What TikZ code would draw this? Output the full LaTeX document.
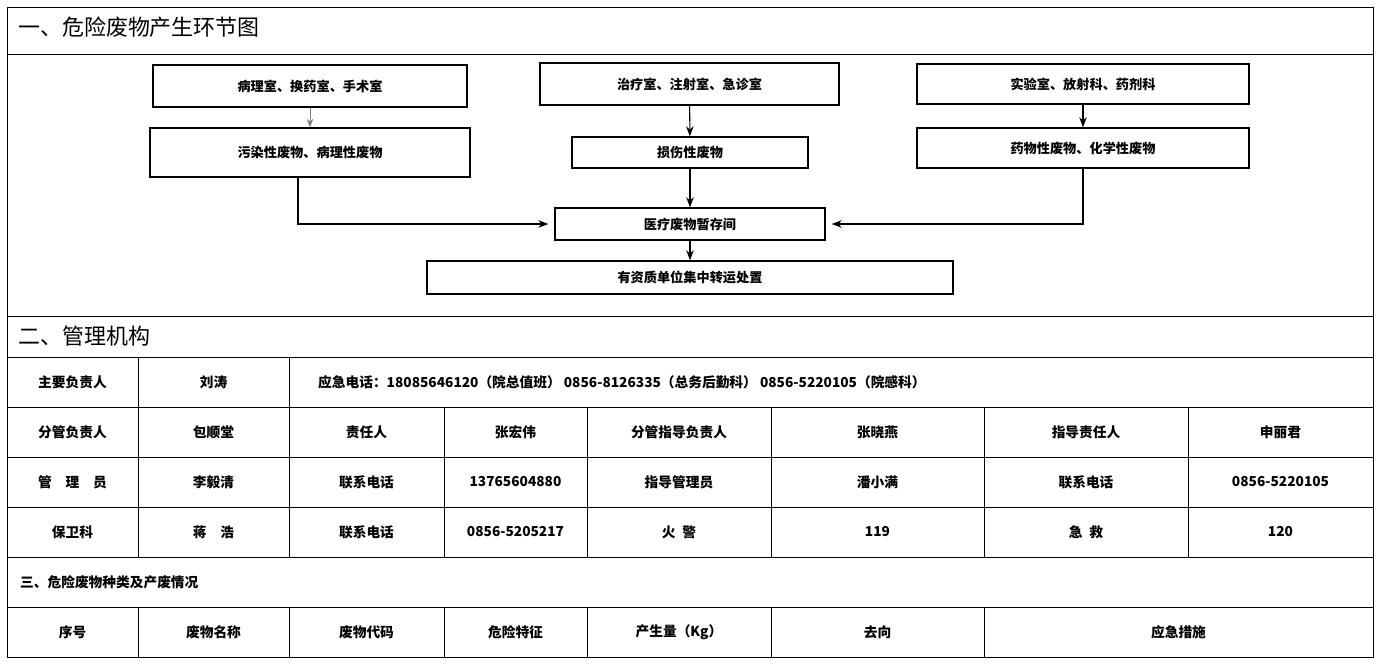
\documentclass[tikz,border=0pt]{standalone}
\usepackage{fontspec}
\setmainfont{Noto Sans CJK SC}
\usetikzlibrary{arrows.meta}
\tikzset{
  flowbox/.style={draw, thick, minimum height=0.8cm, font=\fontsize{7.5}{9}\selectfont\bfseries},
  cell/.style={font=\fontsize{7.8}{9}\selectfont\bfseries},
  flow/.style={->, >=Stealth, semithick},
}
\begin{document}
\begin{tikzpicture}[x=0.02cm, y=-0.02cm]
                \useasboundingbox (0,0) rectangle (1379,664);
                % frame and rules
                \draw (7,7) rectangle (1373,657);
                \foreach \y in {54,316,357,407,457,507,557,607}
                    \draw (7,\y) -- (1373,\y);
                \draw (138,357) -- (138,557);
                \draw (289,357) -- (289,557);
                \foreach \x in {444,587,771,984,1188}
                    \draw (\x,407) -- (\x,557);
                \foreach \x in {138,289,444,587,771,984}
                    \draw (\x,607) -- (\x,657);
                % titles
                \node [anchor=west, font=\fontsize{12.5}{14}\selectfont] (t1) at (12,27) {一、危险废物产生环节图};
                \node [anchor=west, font=\fontsize{12.5}{14}\selectfont] (t2) at (12,336) {二、管理机构};
                \node [anchor=west, cell] (t3) at (14,582) {三、危险废物种类及产废情况};
                % flow chart
                \node [flowbox, minimum width=6.28cm, minimum height=0.84cm] (room1) at (310,86) {病理室、换药室、手术室};
                \node [flowbox, minimum width=6.4cm, minimum height=0.98cm] (waste1) at (310,152.5) {污染性废物、病理性废物};
                \node [flowbox, minimum width=5.98cm, minimum height=0.84cm] (room2) at (689.5,84) {治疗室、注射室、急诊室};
                \node [flowbox, minimum width=4.72cm, minimum height=0.62cm] (waste2) at (690,152.5) {损伤性废物};
                \node [flowbox, minimum width=6.64cm, minimum height=0.8cm] (room3) at (1083,84) {实验室、放射科、药剂科};
                \node [flowbox, minimum width=6.64cm, minimum height=0.8cm] (waste3) at (1083,148) {药物性废物、化学性废物};
                \node [flowbox, minimum width=5.4cm, minimum height=0.64cm] (store) at (690,224) {医疗废物暂存间};
                \node [flowbox, minimum width=10.52cm, minimum height=0.66cm] (final) at (690,277.5) {有资质单位集中转运处置};
                \draw [->, >=Stealth, thin, gray] (room1) -- (waste1);
                \draw [flow] (room2) -- (waste2);
                \draw [flow] (room3) -- (waste3);
                \draw [flow] (waste2) -- (store);
                \draw [flow] (store) -- (final);
                \draw [flow] (298,177) |- ([xshift=-0.12cm]store.west);
                \draw [flow] (1083,168) |- ([xshift=0.12cm]store.east);
                % table
                \node [cell] (r1a) at (72.5,382) {主要负责人};
                \node [cell] (r1b) at (213.5,382) {刘涛};
                \node [cell, anchor=west] (r1c) at (312,382) {应急电话：18085646120（院总值班） 0856-8126335（总务后勤科） 0856-5220105（院感科）};
                \node [cell] at (72.5,432) {分管负责人};
                \node [cell] at (213.5,432) {包顺堂};
                \node [cell] at (366.5,432) {责任人};
                \node [cell] at (515.5,432) {张宏伟};
                \node [cell] at (679,432) {分管指导负责人};
                \node [cell] at (877.5,432) {张晓燕};
                \node [cell] at (1086,432) {指导责任人};
                \node [cell] at (1280.5,432) {申丽君};
                \node [cell] at (72.5,482) {管\quad 理\quad 员};
                \node [cell] at (213.5,482) {李毅清};
                \node [cell] at (366.5,482) {联系电话};
                \node [cell] at (515.5,482) {13765604880};
                \node [cell] at (679,482) {指导管理员};
                \node [cell] at (877.5,482) {潘小满};
                \node [cell] at (1086,482) {联系电话};
                \node [cell] at (1280.5,482) {0856-5220105};
                \node [cell] at (72.5,532) {保卫科};
                \node [cell] at (213.5,532) {蒋\quad 浩};
                \node [cell] at (366.5,532) {联系电话};
                \node [cell] at (515.5,532) {0856-5205217};
                \node [cell] at (679,532) {火\enspace 警};
                \node [cell] at (877.5,532) {119};
                \node [cell] at (1086,532) {急\enspace 救};
                \node [cell] at (1280.5,532) {120};
                \node [cell] at (72.5,632) {序号};
                \node [cell] at (213.5,632) {废物名称};
                \node [cell] at (366.5,632) {废物代码};
                \node [cell] at (515.5,632) {危险特征};
                \node [cell] at (679,632) {产生量（Kg）};
                \node [cell] at (877.5,632) {去向};
                \node [cell] at (1178.5,632) {应急措施};
\end{tikzpicture}
\end{document}
